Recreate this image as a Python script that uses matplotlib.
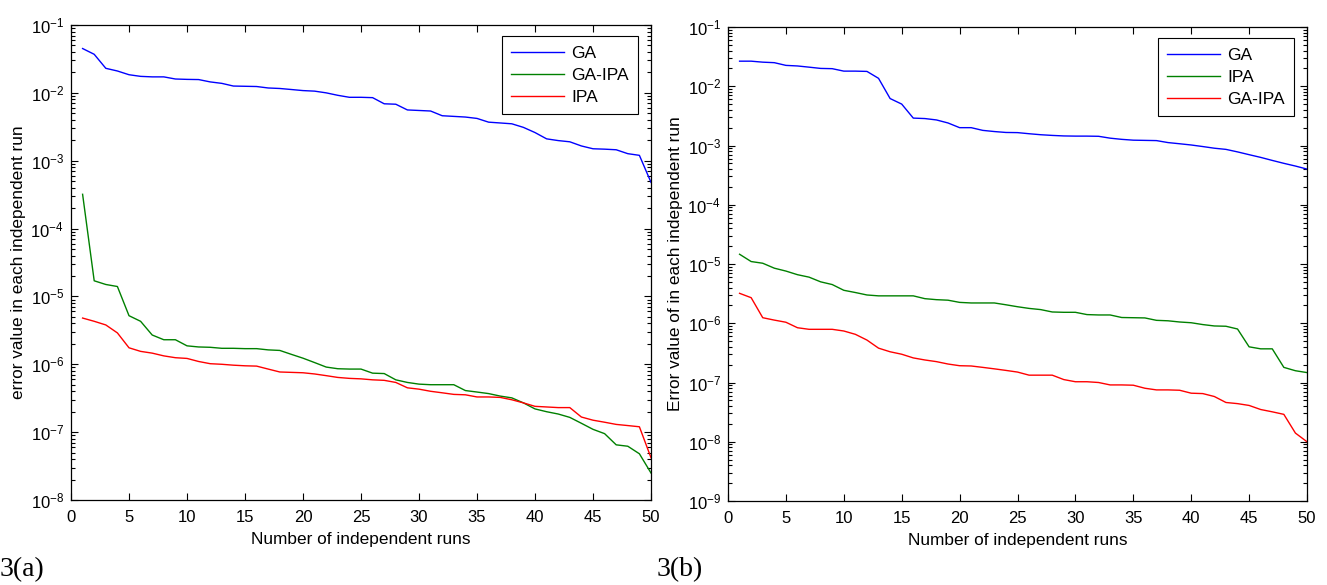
import numpy as np
import matplotlib
matplotlib.use("Agg")
import matplotlib.pyplot as plt
from matplotlib.ticker import LogLocator, FixedLocator

plt.rcParams['font.family'] = ['Liberation Sans', 'DejaVu Sans']
plt.rcParams['mathtext.fontset'] = 'custom'
plt.rcParams['mathtext.rm'] = 'Liberation Sans'
plt.rcParams['mathtext.default'] = 'regular'

runs = np.arange(1, 51)

# panel (a)
ga_a = [4.5e-2, 3.7e-2, 2.3e-2, 2.1e-2, 1.85e-2, 1.75e-2, 1.72e-2, 1.72e-2, 1.6e-2, 1.58e-2,
        1.57e-2, 1.45e-2, 1.38e-2, 1.26e-2, 1.25e-2, 1.24e-2, 1.18e-2, 1.16e-2, 1.12e-2, 1.08e-2,
        1.06e-2, 1.0e-2, 9.2e-3, 8.6e-3, 8.6e-3, 8.5e-3, 6.9e-3, 6.8e-3, 5.6e-3, 5.5e-3,
        5.4e-3, 4.6e-3, 4.5e-3, 4.4e-3, 4.2e-3, 3.7e-3, 3.6e-3, 3.5e-3, 3.1e-3, 2.6e-3,
        2.1e-3, 1.98e-3, 1.9e-3, 1.65e-3, 1.5e-3, 1.48e-3, 1.45e-3, 1.27e-3, 1.2e-3, 4.8e-4]
gaipa_a = [3.2e-4, 1.7e-5, 1.5e-5, 1.4e-5, 5.2e-6, 4.3e-6, 2.7e-6, 2.3e-6, 2.3e-6, 1.87e-6,
           1.8e-6, 1.78e-6, 1.72e-6, 1.72e-6, 1.7e-6, 1.7e-6, 1.63e-6, 1.6e-6, 1.4e-6, 1.23e-6,
           1.06e-6, 9.1e-7, 8.6e-7, 8.5e-7, 8.5e-7, 7.4e-7, 7.3e-7, 5.9e-7, 5.4e-7, 5.1e-7,
           5.0e-7, 5.0e-7, 5.0e-7, 4.1e-7, 3.9e-7, 3.7e-7, 3.4e-7, 3.2e-7, 2.7e-7, 2.2e-7,
           2.0e-7, 1.85e-7, 1.65e-7, 1.35e-7, 1.1e-7, 9.5e-8, 6.5e-8, 6.2e-8, 4.8e-8, 2.5e-8]
ipa_a = [4.8e-6, 4.3e-6, 3.8e-6, 2.9e-6, 1.75e-6, 1.55e-6, 1.46e-6, 1.33e-6, 1.25e-6, 1.22e-6,
         1.1e-6, 1.02e-6, 1.0e-6, 9.7e-7, 9.5e-7, 9.4e-7, 8.5e-7, 7.7e-7, 7.6e-7, 7.5e-7,
         7.2e-7, 6.8e-7, 6.4e-7, 6.2e-7, 6.1e-7, 5.9e-7, 5.8e-7, 5.4e-7, 4.5e-7, 4.3e-7,
         4.0e-7, 3.8e-7, 3.6e-7, 3.55e-7, 3.3e-7, 3.3e-7, 3.25e-7, 3.0e-7, 2.7e-7, 2.4e-7,
         2.35e-7, 2.3e-7, 2.3e-7, 1.67e-7, 1.5e-7, 1.4e-7, 1.3e-7, 1.25e-7, 1.2e-7, 4.2e-8]

# panel (b)
ga_b = [2.65e-2, 2.65e-2, 2.55e-2, 2.5e-2, 2.25e-2, 2.2e-2, 2.1e-2, 2.0e-2, 1.98e-2, 1.8e-2,
        1.8e-2, 1.78e-2, 1.36e-2, 6.2e-3, 5.0e-3, 2.9e-3, 2.85e-3, 2.7e-3, 2.4e-3, 2.0e-3,
        2.0e-3, 1.8e-3, 1.72e-3, 1.66e-3, 1.65e-3, 1.58e-3, 1.52e-3, 1.48e-3, 1.45e-3, 1.44e-3,
        1.44e-3, 1.43e-3, 1.33e-3, 1.27e-3, 1.23e-3, 1.22e-3, 1.21e-3, 1.12e-3, 1.07e-3, 1.02e-3,
        9.6e-4, 9.0e-4, 8.6e-4, 7.8e-4, 7.0e-4, 6.3e-4, 5.6e-4, 5.0e-4, 4.5e-4, 4.0e-4]
ipa_b = [1.46e-5, 1.1e-5, 1.03e-5, 8.5e-6, 7.6e-6, 6.6e-6, 6.0e-6, 5.0e-6, 4.5e-6, 3.6e-6,
         3.3e-6, 3.0e-6, 2.9e-6, 2.9e-6, 2.9e-6, 2.9e-6, 2.6e-6, 2.5e-6, 2.45e-6, 2.25e-6,
         2.2e-6, 2.2e-6, 2.2e-6, 2.05e-6, 1.9e-6, 1.78e-6, 1.7e-6, 1.55e-6, 1.53e-6, 1.53e-6,
         1.4e-6, 1.38e-6, 1.38e-6, 1.25e-6, 1.24e-6, 1.23e-6, 1.12e-6, 1.1e-6, 1.05e-6, 1.02e-6,
         9.5e-7, 9.0e-7, 8.9e-7, 8.0e-7, 4.0e-7, 3.7e-7, 3.7e-7, 1.8e-7, 1.58e-7, 1.47e-7]
gaipa_b = [3.2e-6, 2.7e-6, 1.24e-6, 1.13e-6, 1.04e-6, 8.4e-7, 7.9e-7, 7.9e-7, 7.9e-7, 7.4e-7,
           6.5e-7, 5.2e-7, 3.8e-7, 3.3e-7, 3.0e-7, 2.6e-7, 2.4e-7, 2.25e-7, 2.05e-7, 1.92e-7,
           1.9e-7, 1.8e-7, 1.7e-7, 1.6e-7, 1.5e-7, 1.33e-7, 1.33e-7, 1.33e-7, 1.12e-7, 1.03e-7,
           1.03e-7, 1.0e-7, 9.1e-8, 9.1e-8, 9.0e-8, 8.0e-8, 7.5e-8, 7.5e-8, 7.4e-8, 6.6e-8,
           6.5e-8, 5.8e-8, 4.6e-8, 4.4e-8, 4.1e-8, 3.5e-8, 3.2e-8, 2.9e-8, 1.4e-8, 1.0e-8]

BLUE = (0, 0, 1)
GREEN = (0, 0.5, 0)
RED = (1, 0, 0)
W, H = 1327.0, 585.0


def style_axes(ax, ymin_exp, ylabel):
    ax.set_yscale('log')
    ax.set_xlim(0, 50)
    ax.set_ylim(10.0 ** ymin_exp, 1e-1)
    ax.set_xticks(range(0, 51, 5))
    ax.yaxis.set_major_locator(FixedLocator([10.0 ** e for e in range(ymin_exp, 0)]))
    ax.yaxis.set_minor_locator(LogLocator(base=10, subs=np.arange(2, 10), numticks=20))
    ax.tick_params(which='both', direction='in', top=True, right=True, labelsize=12,
                   colors='black', width=0.8)
    ax.tick_params(which='major', length=5)
    ax.tick_params(axis='x', which='major', pad=7)
    ax.tick_params(axis='y', which='major', pad=5)
    ax.tick_params(which='minor', length=3)
    ax.tick_params(axis='x', which='minor', top=False, bottom=False)
    for s in ax.spines.values():
        s.set_linewidth(0.9)
    ax.set_xlabel('Number of independent runs', fontsize=12.4, labelpad=5)
    ax.set_ylabel(ylabel, fontsize=12.4, labelpad=3)


fig = plt.figure(figsize=(W / 100, H / 100), dpi=100)
ax1 = fig.add_axes([71 / W, (H - 500) / H, 580 / W, 475 / H])
ax2 = fig.add_axes([728 / W, (H - 501) / H, 579 / W, 474 / H])

ax1.plot(runs, ga_a, color=BLUE, lw=1, label='GA')
ax1.plot(runs, gaipa_a, color=GREEN, lw=1, label='GA-IPA')
ax1.plot(runs, ipa_a, color=RED, lw=1, label='IPA')
style_axes(ax1, -8, 'error value in each independent run')

ax2.plot(runs, ga_b, color=BLUE, lw=1, label='GA')
ax2.plot(runs, ipa_b, color=GREEN, lw=1, label='IPA')
ax2.plot(runs, gaipa_b, color=RED, lw=1, label='GA-IPA')
style_axes(ax2, -9, 'Error value of in each independent run')

for ax in (ax1, ax2):
    leg = ax.legend(loc='upper right', bbox_to_anchor=(0.978, 0.977), fontsize=12.5,
                    fancybox=False, framealpha=1, edgecolor='black', handlelength=3.05,
                    borderpad=0.55, labelspacing=0.4, handletextpad=0.4, borderaxespad=0)
    leg.get_frame().set_linewidth(0.8)

fig.text(0 / W, 1 - 570 / H, '3(a)', fontsize=20, family='Liberation Serif', va='center')
fig.text(657 / W, 1 - 570 / H, '3(b)', fontsize=20, family='Liberation Serif', va='center')

fig.savefig('out.png', dpi=100)
